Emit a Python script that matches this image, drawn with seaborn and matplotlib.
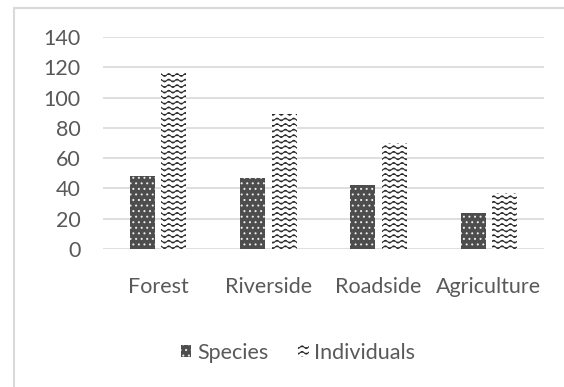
import warnings
import numpy as np
import pandas as pd
import seaborn as sns
import matplotlib
matplotlib.use('Agg')
import matplotlib.pyplot as plt
from matplotlib import hatch as mhatch
from matplotlib.path import Path
from matplotlib.patches import Rectangle

warnings.filterwarnings('ignore')

habitats = ['Forest', 'Riverside', 'Roadside', 'Agriculture']
species = [48, 47, 42, 24]
individuals = [116, 89, 70, 37]
series_names = ['Species', 'Individuals']
y_ticks = [0, 20, 40, 60, 80, 100, 120, 140]


# wavy hatch ('~') like the Excel "wave" pattern
class WaveHatch(mhatch.HatchPatternBase):
    def __init__(self, hatch, density):
        self.num_rows = int(hatch.count('~') * density)
        self.n_per = 12
        self.n_pts = self.n_per * 8 + 1
        self.num_vertices = self.num_rows * self.n_pts

    def set_vertices_and_codes(self, vertices, codes):
        xs = np.linspace(0.0, 1.0, self.n_pts)
        amp = 0.25 / self.num_rows
        for i in range(self.num_rows):
            y0 = (i + 0.5) / self.num_rows
            sl = slice(i * self.n_pts, (i + 1) * self.n_pts)
            vertices[sl, 0] = xs
            vertices[sl, 1] = y0 + amp * np.sin(2 * np.pi * self.n_per * xs)
            codes[sl] = Path.LINETO
            codes[i * self.n_pts] = Path.MOVETO


mhatch._hatch_types.append(WaveHatch)

df = pd.DataFrame({
    'Habitat': habitats * 2,
    'Series': [series_names[0]] * 4 + [series_names[1]] * 4,
    'Value': species + individuals,
})

sns.set_style('white')
plt.rcParams['font.family'] = ['Lato', 'DejaVu Sans']
plt.rcParams['hatch.linewidth'] = 0.7

fig = plt.figure(figsize=(5.64, 3.87), dpi=100)
ax = fig.add_axes([0.1826, 0.3566, 0.7819, 0.5478])

sns.barplot(data=df, x='Habitat', y='Value', hue='Series', ax=ax,
            width=0.57, gap=0.2, legend=False)

for bar in ax.containers[0]:
    bar.set_facecolor('#4d4d4d')
    bar.set_edgecolor('#ededed')
    bar.set_hatch('...')
    bar.set_linewidth(0)
for bar in ax.containers[1]:
    bar.set_facecolor('white')
    bar.set_edgecolor('#262626')
    bar.set_hatch('~~~')
    bar.set_linewidth(0)

ax.set_ylim(0, 140)
ax.set_yticks(y_ticks)
ax.set_xlim(-0.5, 3.5)
ax.grid(axis='y', color='#d9d9d9', linewidth=1.2)
ax.set_axisbelow(True)
for s in ax.spines.values():
    s.set_visible(False)
ax.set_xlabel('')
ax.set_ylabel('')
ax.tick_params(axis='y', length=0, pad=16, labelsize=15.5, labelcolor='#595959')
ax.tick_params(axis='x', length=0, pad=20, labelsize=15.5, labelcolor='#595959')

leg = ax.legend(ax.containers, series_names, loc='center',
                bbox_to_anchor=(298 / 564, 1 - 353 / 387),
                bbox_transform=fig.transFigure,
                ncol=2, frameon=False, fontsize=15.5, handlelength=0.5,
                handleheight=0.5, handletextpad=0.25, columnspacing=1.4)
for t in leg.get_texts():
    t.set_color('#595959')

# chart area border
fig.patches.append(Rectangle((14 / 564, -0.1), 1.1, 0.1 + (387 - 8) / 387,
                             transform=fig.transFigure, fill=False,
                             edgecolor='#d9d9d9', linewidth=1.5))

fig.savefig('out.png', dpi=100)
